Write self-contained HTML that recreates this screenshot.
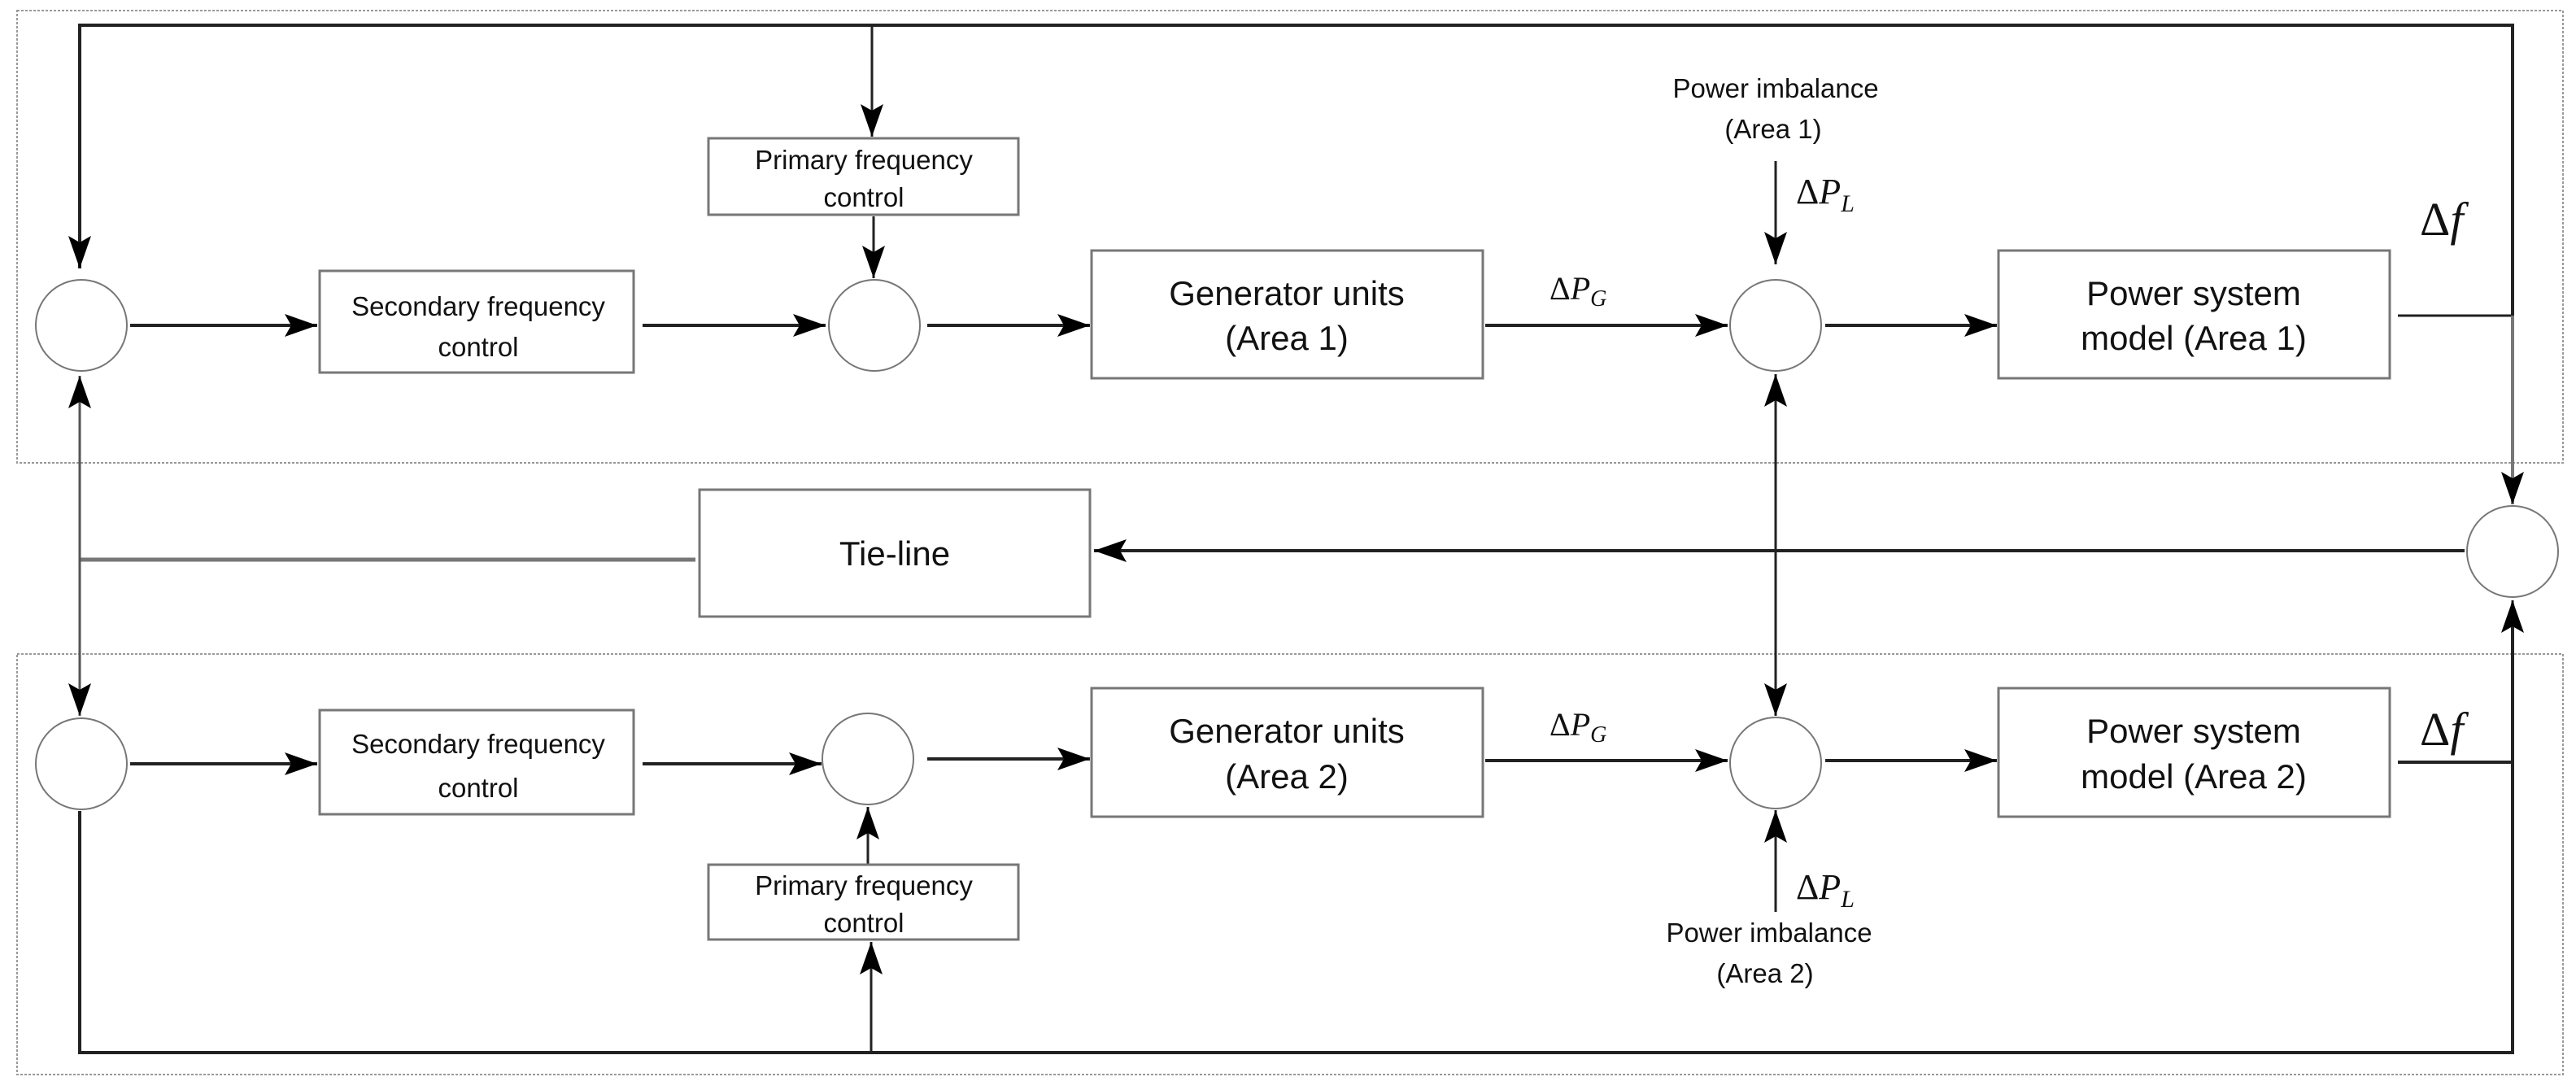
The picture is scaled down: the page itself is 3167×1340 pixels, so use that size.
<!DOCTYPE html>
<html><head><meta charset="utf-8"><style>
html,body{margin:0;padding:0;background:#fff;}
svg{display:block;}
text{font-family:"Liberation Sans",sans-serif;fill:#111;}
g.m text{font-family:"Liberation Serif",serif;}
</style></head><body>
<svg width="3167" height="1340" viewBox="0 0 3167 1340" xmlns="http://www.w3.org/2000/svg">
<defs>
<marker id="b" viewBox="0 0 10 10" refX="10" refY="5" markerWidth="40" markerHeight="28" markerUnits="userSpaceOnUse" orient="auto" preserveAspectRatio="none">
<path d="M0,0 L10,5 L0,10 L2,5 z" fill="#000"/></marker>
</defs>
<rect x="21" y="13" width="3130" height="556" fill="none" stroke="#999" stroke-width="2" stroke-dasharray="3,2"/>
<rect x="21" y="804" width="3130" height="517" fill="none" stroke="#999" stroke-width="2" stroke-dasharray="3,2"/>

<g fill="none" stroke="#222" stroke-width="4">
<polyline points="3089,388 3089,31 98,31 98,330" stroke-width="4"/>
<line x1="1072" y1="31" x2="1072" y2="168" stroke-width="3" marker-end="url(#b)"/>
<line x1="98" y1="100" x2="98" y2="330" marker-end="url(#b)" stroke-width="3"/>
<line x1="1074" y1="266" x2="1074" y2="342" stroke-width="3" marker-end="url(#b)"/>
<line x1="160" y1="400" x2="390" y2="400" marker-end="url(#b)"/>
<line x1="790" y1="400" x2="1015" y2="400" marker-end="url(#b)"/>
<line x1="1140" y1="400" x2="1340" y2="400" marker-end="url(#b)"/>
<line x1="1826" y1="400" x2="2124" y2="400" marker-end="url(#b)"/>
<line x1="2244" y1="400" x2="2455" y2="400" marker-end="url(#b)"/>
<line x1="2183" y1="198" x2="2183" y2="325" stroke-width="3" marker-end="url(#b)"/>
<line x1="2948" y1="388" x2="3089" y2="388" stroke-width="3"/>
<line x1="3089" y1="388" x2="3089" y2="620" stroke="#777" stroke-width="4" marker-end="url(#b)"/>
<line x1="3030" y1="677" x2="1345" y2="677" marker-end="url(#b)"/>
<line x1="855" y1="688" x2="98" y2="688" stroke="#777" stroke-width="5"/>
<line x1="98" y1="688" x2="98" y2="462" stroke="#555" stroke-width="3" marker-end="url(#b)"/>
<line x1="98" y1="580" x2="98" y2="880" stroke="#555" stroke-width="3" marker-end="url(#b)"/>
<line x1="2183" y1="560" x2="2183" y2="460" stroke-width="3" marker-end="url(#b)"/>
<line x1="2183" y1="560" x2="2183" y2="880" stroke-width="3" marker-end="url(#b)"/>
<line x1="160" y1="939" x2="390" y2="939" marker-end="url(#b)"/>
<line x1="790" y1="939" x2="1010" y2="939" marker-end="url(#b)"/>
<line x1="1140" y1="933" x2="1340" y2="933" marker-end="url(#b)"/>
<line x1="1826" y1="935" x2="2124" y2="935" marker-end="url(#b)"/>
<line x1="2244" y1="935" x2="2455" y2="935" marker-end="url(#b)"/>
<line x1="2183" y1="1121" x2="2183" y2="996" stroke-width="3" marker-end="url(#b)"/>
<line x1="1067" y1="1063" x2="1067" y2="992" stroke-width="3" marker-end="url(#b)"/>
<line x1="2948" y1="937" x2="3089" y2="937"/>
<polyline points="98,997 98,1294 3089,1294 3089,742" stroke-width="4"/>
<line x1="3089" y1="800" x2="3089" y2="738" stroke-width="3" marker-end="url(#b)"/>
<line x1="1071" y1="1294" x2="1071" y2="1158" stroke-width="3" marker-end="url(#b)"/>
</g>

<g fill="#fff" stroke="#777" stroke-width="3">
<rect x="393" y="333" width="386" height="125"/>
<rect x="871" y="170" width="381" height="94"/>
<rect x="1342" y="308" width="481" height="157"/>
<rect x="2457" y="308" width="481" height="157"/>
<rect x="860" y="602" width="480" height="156"/>
<rect x="393" y="873" width="386" height="128"/>
<rect x="871" y="1063" width="381" height="92"/>
<rect x="1342" y="846" width="481" height="158"/>
<rect x="2457" y="846" width="481" height="158"/>
</g>
<g fill="#fff" stroke="#777" stroke-width="2">
<ellipse cx="100" cy="400" rx="56" ry="56"/>
<ellipse cx="1075" cy="400" rx="56" ry="56"/>
<ellipse cx="2183" cy="400" rx="56" ry="56"/>
<ellipse cx="3089" cy="678" rx="56" ry="56"/>
<ellipse cx="100" cy="939" rx="56" ry="56"/>
<ellipse cx="1067" cy="933" rx="56" ry="56"/>
<ellipse cx="2183" cy="938" rx="56" ry="56"/>
</g>

<g font-size="33" text-anchor="middle">
<text x="588" y="388">Secondary frequency</text>
<text x="588" y="438">control</text>
<text x="1062" y="208">Primary frequency</text>
<text x="1062" y="254">control</text>
<text x="588" y="926">Secondary frequency</text>
<text x="588" y="980">control</text>
<text x="1062" y="1100">Primary frequency</text>
<text x="1062" y="1146">control</text>
<text x="2183" y="120">Power imbalance</text>
<text x="2180" y="170">(Area 1)</text>
<text x="2175" y="1158">Power imbalance</text>
<text x="2170" y="1208">(Area 2)</text>
</g>
<g font-size="42" text-anchor="middle">
<text x="1582" y="375">Generator units</text>
<text x="1582" y="430">(Area 1)</text>
<text x="1582" y="913">Generator units</text>
<text x="1582" y="969">(Area 2)</text>
<text x="2697" y="375">Power system</text>
<text x="2697" y="430">model (Area 1)</text>
<text x="2697" y="913">Power system</text>
<text x="2697" y="969">model (Area 2)</text>
<text x="1100" y="695">Tie-line</text>
</g>
<g class="m">
<text x="1905" y="368" font-size="40">Δ<tspan font-style="italic">P</tspan><tspan font-style="italic" font-size="28" dy="8">G</tspan></text>
<text x="1905" y="904" font-size="40">Δ<tspan font-style="italic">P</tspan><tspan font-style="italic" font-size="28" dy="8">G</tspan></text>
<text x="2208" y="250" font-size="44">Δ<tspan font-style="italic">P</tspan><tspan font-style="italic" font-size="30" dy="10">L</tspan></text>
<text x="2208" y="1105" font-size="44">Δ<tspan font-style="italic">P</tspan><tspan font-style="italic" font-size="30" dy="10">L</tspan></text>
<text x="2975" y="289" font-size="58">Δ<tspan font-style="italic">f</tspan></text>
<text x="2975" y="916" font-size="58">Δ<tspan font-style="italic">f</tspan></text>
</g>
</svg>
</body></html>
